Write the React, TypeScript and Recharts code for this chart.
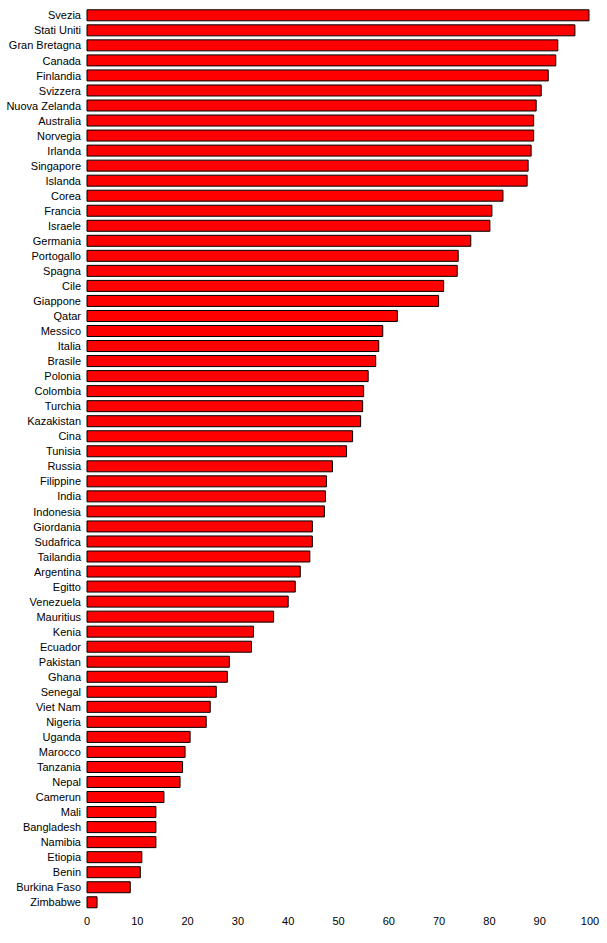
import { Bar, BarChart, XAxis, YAxis } from "recharts";

const countries = [
  "Svezia", "Stati Uniti", "Gran Bretagna", "Canada", "Finlandia", "Svizzera",
  "Nuova Zelanda", "Australia", "Norvegia", "Irlanda", "Singapore", "Islanda",
  "Corea", "Francia", "Israele", "Germania", "Portogallo", "Spagna", "Cile",
  "Giappone", "Qatar", "Messico", "Italia", "Brasile", "Polonia", "Colombia",
  "Turchia", "Kazakistan", "Cina", "Tunisia", "Russia", "Filippine", "India",
  "Indonesia", "Giordania", "Sudafrica", "Tailandia", "Argentina", "Egitto",
  "Venezuela", "Mauritius", "Kenia", "Ecuador", "Pakistan", "Ghana", "Senegal",
  "Viet Nam", "Nigeria", "Uganda", "Marocco", "Tanzania", "Nepal", "Camerun",
  "Mali", "Bangladesh", "Namibia", "Etiopia", "Benin", "Burkina Faso", "Zimbabwe",
];

const values = [
  99.8, 97.0, 93.6, 93.2, 91.7, 90.3,
  89.3, 88.8, 88.8, 88.3, 87.7, 87.5,
  82.7, 80.5, 80.1, 76.3, 73.8, 73.6, 70.9,
  69.9, 61.7, 58.8, 58.0, 57.4, 55.9, 55.0,
  54.8, 54.4, 52.8, 51.6, 48.8, 47.6, 47.4,
  47.2, 44.8, 44.8, 44.3, 42.4, 41.4,
  40.0, 37.1, 33.1, 32.7, 28.3, 27.9, 25.7,
  24.5, 23.7, 20.5, 19.5, 19.0, 18.5, 15.3,
  13.7, 13.7, 13.7, 10.9, 10.6, 8.6, 2.0,
];

const xTicks = [0, 10, 20, 30, 40, 50, 60, 70, 80, 90, 100];

const data = countries.map((name, i) => ({ name, value: values[i] }));

const fontFamily = "'Liberation Sans', Arial, sans-serif";
const font = { fontFamily, fontSize: 11, fill: "#000" };

// plain text tick so long names don't wrap onto two lines
function CountryTick(props: any) {
  const { x, y, payload } = props;
  return (
    <text x={x} y={y} dy="0.355em" textAnchor="end" fontFamily={fontFamily} fontSize={11} fill="#000">
      {payload.value}
    </text>
  );
}

export default function App() {
  return (
    <div style={{ position: "absolute", left: 0, top: 0, background: "#fff" }}>
      <BarChart
        width={607}
        height={943}
        data={data}
        layout="vertical"
        barCategoryGap="12%"
        margin={{ top: 8, right: 17, left: 0, bottom: 8 }}
      >
        <XAxis
          type="number"
          domain={[0, 100]}
          ticks={xTicks}
          axisLine={false}
          tickLine={false}
          tickSize={0}
          tickMargin={7}
          height={25}
          tick={font}
        />
        <YAxis
          type="category"
          dataKey="name"
          width={87}
          axisLine={false}
          tickLine={false}
          tickSize={0}
          tickMargin={6}
          interval={0}
          tick={<CountryTick />}
        />
        <Bar
          dataKey="value"
          fill="#ff0000"
          stroke="#000"
          strokeWidth={1}
          isAnimationActive={false}
        />
      </BarChart>
    </div>
  );
}
